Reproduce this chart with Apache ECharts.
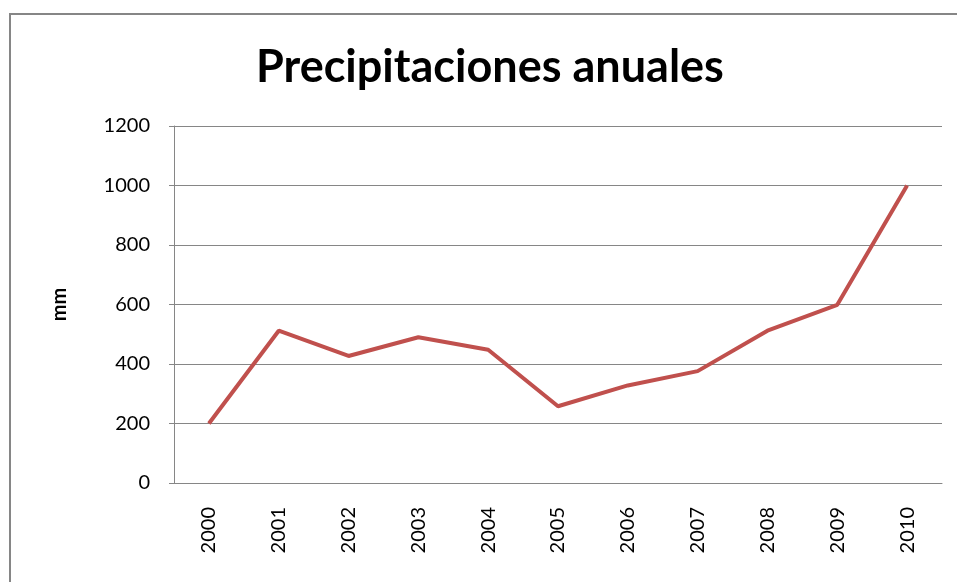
<!DOCTYPE html>
<html>
<head>
<meta charset="utf-8">
<script src="https://cdn.jsdelivr.net/npm/echarts@6/dist/echarts.min.js"></script>
<style>
  html, body { margin: 0; padding: 0; background: #fff; }
  #chart { width: 957px; height: 582px; }
</style>
</head>
<body>
<div id="chart"></div>
<script>
var years = ['2000','2001','2002','2003','2004','2005','2006','2007','2008','2009','2010'];
var rainfall = [200, 512, 427, 490, 448, 258, 328, 376, 512, 599, 1000];
var yTicks = { min: 0, max: 1200, interval: 200 };

var chart = echarts.init(document.getElementById('chart'));
var font = 'Lato, "Open Sans", sans-serif';
var opt = {
    animation: false,
    textStyle: { fontFamily: font },
    title: {
        text: 'Precipitaciones anuales',
        left: 251,
        top: 40,
        textStyle: { fontSize: 45, fontWeight: 'bold', color: '#000', fontFamily: font }
    },
    graphic: [{
        type: 'rect',
        shape: { x: 10, y: 14, width: 1000, height: 1000 },
        style: { fill: 'none', stroke: '#868686', lineWidth: 2 },
        silent: true
    }],
    grid: { left: 174, right: 15, top: 126, bottom: 99 },
    xAxis: {
        type: 'category',
        data: years,
        boundaryGap: true,
        axisLine: { lineStyle: { color: '#868686', width: 1 } },
        axisTick: { show: false },
        axisLabel: { rotate: 90, margin: 24, fontSize: 20, color: '#000', fontFamily: font }
    },
    yAxis: {
        type: 'value',
        min: yTicks.min,
        max: yTicks.max,
        interval: yTicks.interval,
        name: 'mm',
        nameLocation: 'middle',
        nameGap: 104,
        nameTextStyle: { fontSize: 20, fontWeight: 'bold', color: '#000', fontFamily: font },
        axisLine: { show: true, lineStyle: { color: '#868686', width: 1 } },
        axisTick: { show: true, length: 5, lineStyle: { color: '#868686' } },
        axisLabel: {
            margin: 24, fontSize: 20, color: '#000', fontFamily: font,
            formatter: function (v) { return String(v); }
        },
        splitLine: { lineStyle: { color: '#868686', width: 1 } }
    },
    series: [{
        type: 'line',
        data: rainfall,
        showSymbol: false,
        lineStyle: { color: '#c0504d', width: 4 }
    }]
};
chart.setOption(opt);
</script>
</body>
</html>
